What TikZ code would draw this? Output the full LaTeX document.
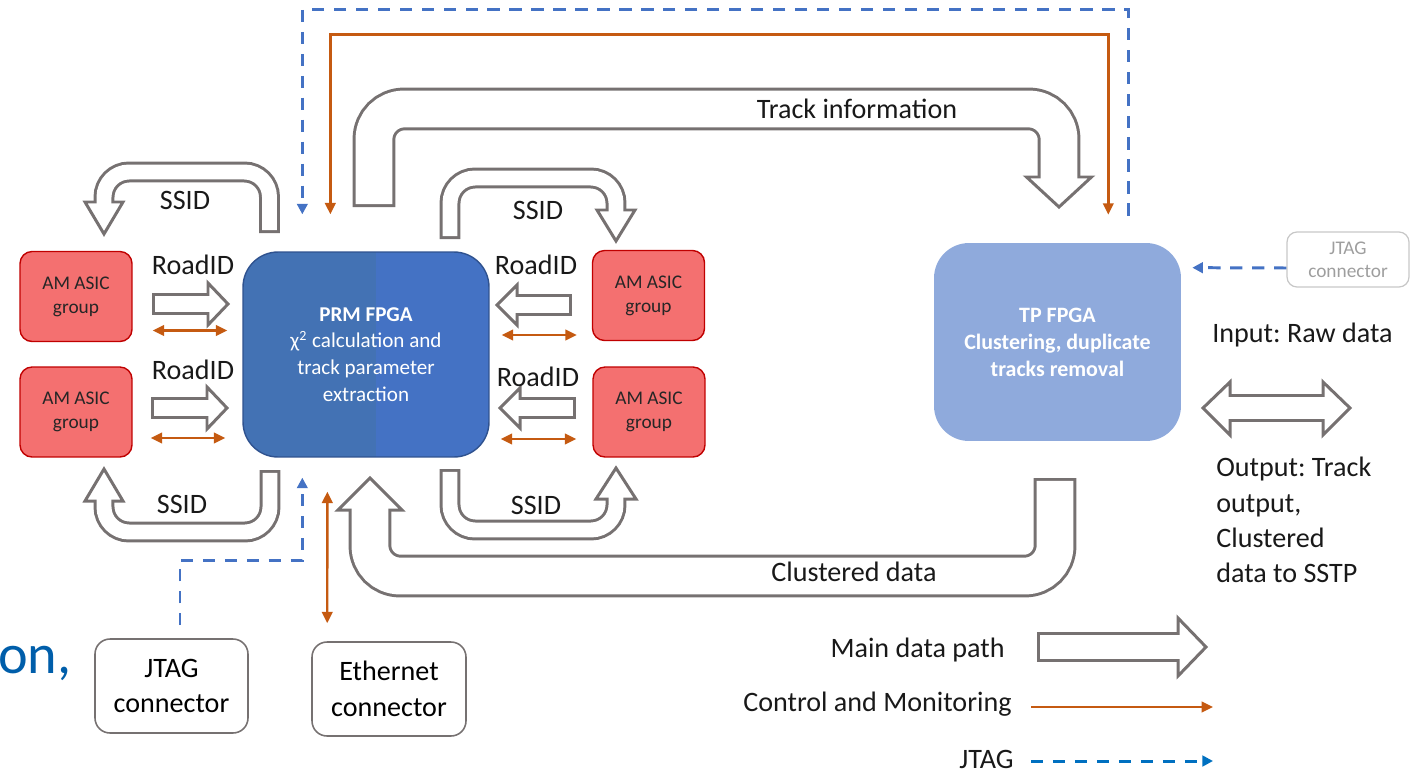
\documentclass[tikz,border=0pt]{standalone}
\usepackage{fontspec}
\setmainfont{Carlito}
\frenchspacing
\usepackage{tikz}
\usetikzlibrary{positioning,arrows.meta,calc}
\definecolor{pipegray}{RGB}{118,113,113}
\definecolor{ctrlorange}{RGB}{197,90,17}
\definecolor{jtagblue}{RGB}{68,114,196}
\definecolor{legblue}{RGB}{0,112,192}
\definecolor{amred}{RGB}{244,112,112}
\definecolor{amborder}{RGB}{192,0,0}
\definecolor{prmleft}{RGB}{67,114,180}
\definecolor{prmright}{RGB}{68,114,196}
\definecolor{prmborder}{RGB}{47,82,143}
\definecolor{tpblue}{RGB}{143,170,220}
\definecolor{slideblue}{RGB}{0,94,170}
\newcommand\pxu{0.5669pt}
\newcommand\olw{1.7pt}
% hollow block arrow: [tail shortening]{width px}{radius}{centre line}{head(s)}
\newcommand\blockarrow[5][shorten <=\olw]{%
  \draw[pipegray,line width=#2*\pxu+\olw,rounded corners=#3] #4;
  \filldraw[fill=white,draw=pipegray,line width=\olw,line join=miter] #5;
  \draw[white,line width=#2*\pxu-\olw,rounded corners=#3,#1,shorten >=-\olw] #4;}

\begin{document}
\begin{tikzpicture}[x=0.02cm,y=-0.02cm,
  >={Triangle[length=6.5pt,width=6pt]},
  amgroup/.style={draw=amborder,fill=amred,line width=0.8pt,rounded corners=0.24cm,minimum width=2.24cm,minimum height=1.8cm,align=center,text=black!85,font=\fontsize{11}{13.6}\selectfont},
  fpga/.style={rounded corners=0.7cm,align=center,text=white,font=\fontsize{12}{15.3}\selectfont},
  conn/.style={draw=pipegray,line width=0.9pt,rounded corners=0.3cm,align=center,font=\fontsize{16}{20.4}\selectfont},
  lbl/.style={inner sep=0pt,text=black!90,font=\fontsize{16}{20}\selectfont},
  ctrl/.style={ctrlorange,line width=1.4pt},
  jtag/.style={jtagblue,line width=1.7pt,dash pattern=on 7pt off 5.5pt,>={Triangle[length=6pt,width=6pt]}}]
\useasboundingbox (0,0) rectangle (1419,774);

% boards and chips
\node[amgroup] (am1) at (76,296.5) {AM ASIC\\group};
\node[amgroup] (am2) at (76,412) {AM ASIC\\group};
\node[amgroup] (am3) at (648.5,295.5) {AM ASIC\\group};
\node[amgroup] (am4) at (649,412) {AM ASIC\\group};
\node[fpga,fill=prmright,draw=prmborder,line width=0.8pt,minimum width=4.92cm,minimum height=4.1cm,
  path picture={\fill[prmleft,sharp corners] (path picture bounding box.south west) rectangle ([xshift=2.66cm]path picture bounding box.north west);}]
  (prm) at (366,354.5) {\textbf{PRM FPGA}\\χ\textsuperscript{2} calculation and\\track parameter\\extraction};
\node[fpga,fill=tpblue,minimum width=4.94cm,minimum height=3.96cm,font=\bfseries\fontsize{12.5}{15.3}\selectfont]
  (tp) at (1057.5,342) {TP FPGA\\Clustering, duplicate\\tracks removal};
\node[conn,draw=black!22,text=black!38,line width=0.7pt,minimum width=2.44cm,minimum height=1.1cm,rounded corners=0.2cm,font=\fontsize{11}{13}\selectfont] (jtagR) at (1348,259.5) {JTAG\\connector};
\node[conn,minimum width=3.06cm,minimum height=1.88cm] (jtagB) at (171.5,686) {JTAG\\connector};
\node[conn,minimum width=3.08cm,minimum height=1.88cm] (eth) at (389,689) {Ethernet\\connector};
\node[font=\fontsize{32}{36}\selectfont,text=slideblue,anchor=base west,inner sep=0pt] (slidetxt) at (-2,673) {on,};

% main data path
\blockarrow{40}{0.6cm}{(374,207) -- (374,109) -- (1059,109) -- (1059,177)}{(1026.5,177) -- (1059,207) -- (1091.5,177) -- cycle}
\blockarrow{40}{0.6cm}{(1055,478) -- (1055,576) -- (370,576) -- (370,510)}{(338,510) -- (370,478) -- (402,510) -- cycle}
\blockarrow{18}{0.5cm}{(269.5,233) -- (269.5,172) -- (104,172) -- (104,202)}{(85,202) -- (104,234) -- (123,202) -- cycle}
\blockarrow{18}{0.5cm}{(450,239) -- (450,178) -- (616,178) -- (616,210)}{(597,210) -- (616,241) -- (635,210) -- cycle}
\blockarrow{18}{0.5cm}{(270,470) -- (270,532) -- (104,532) -- (104,501)}{(85,501) -- (104,469) -- (123,501) -- cycle}
\blockarrow{18}{0.5cm}{(450,469) -- (450,530) -- (616,530) -- (616,499)}{(596,499) -- (616,468) -- (636,499) -- cycle}
\blockarrow{20}{1pt}{(152,304) -- (208,304)}{(208,283) -- (228,304) -- (208,325) -- cycle}
\blockarrow{20}{1pt}{(151,408) -- (207,408)}{(207,387) -- (227,408) -- (207,429) -- cycle}
\blockarrow{19}{1pt}{(572,305) -- (517,305)}{(517,285) -- (497,305) -- (517,325) -- cycle}
\blockarrow{19}{1pt}{(576,408) -- (520,408)}{(520,388) -- (500,408) -- (520,428) -- cycle}
\blockarrow[shorten <=-\olw]{25}{1pt}{(1230,408) -- (1323,408)}{(1230,382) -- (1203,408) -- (1230,435) -- cycle (1323,382) -- (1350,408) -- (1323,435) -- cycle}

\node[lbl] (trackinfo) at (857,109) {Track information};
\node[lbl] (clustered) at (854,572) {Clustered data};
\node[lbl] (ssid1) at (185,200) {SSID};
\node[lbl] (ssid2) at (538,210) {SSID};
\node[lbl] (ssid3) at (182,504) {SSID};
\node[lbl] (ssid4) at (536,505) {SSID};
\node[lbl] (road1) at (193,265) {RoadID};
\node[lbl] (road2) at (193,370) {RoadID};
\node[lbl] (road3) at (536,265) {RoadID};
\node[lbl] (road4) at (538,377) {RoadID};
\node[lbl,anchor=west] (inlbl) at (1212,335) {Input: Raw data};
\node[lbl,anchor=north west,align=left] (outlbl) at (1216,457) {Output: Track\\output,\\Clustered\\data to SSTP};

% control and monitoring
\draw[ctrl,<->] ($(am1.east)+(20,34)$) -- ($(am1.east -| prm.west)+(-15,34)$);
\draw[ctrl,<->] ($(am2.east)+(18,26)$) -- ($(am2.east -| prm.west)+(-17,26)$);
\draw[ctrl,<->] ($(am3.west -| prm.east)+(12,39.5)$) -- ($(am3.west)+(-15,39.5)$);
\draw[ctrl,<->] ($(am4.west -| prm.east)+(11,27)$) -- ($(am4.west)+(-16,27)$);
\draw[ctrl,<->] ($(prm.north west)+(88,-37)$) -- ++(0,-180) -| ($(tp.north east)+(-73,-28)$);
\draw[ctrl,<->] ($(eth.north west)+(16,-18)$) -- ($(prm.south west)+(85,34)$);

% jtag chain
\draw[jtag,->] ($(tp.north east)+(-53,-27)$) -- ++(0,-206) -| ($(prm.north west)+(60,-37)$);
\draw[jtag,->] ($(jtagB.north)+(8.5,-13)$) -- ++(0,-65) -| ($(prm.south west)+(60,20)$);
\draw[jtag,->] ($(jtagR.west)+(0,8.5)$) -- ($(tp.north east)+(11,25)$);

% legend
\node[lbl,anchor=east] (mainlbl) at (1005,650) {Main data path};
\node[lbl,anchor=east] (ctrllbl) at (1012,704) {Control and Monitoring};
\node[lbl,anchor=east] (jtaglbl) at (1014,759) {JTAG};
\blockarrow{27}{1pt}{(1037,647) -- (1178,647)}{(1178,618) -- (1206,647) -- (1178,676) -- cycle}
\coordinate (ctrlend) at (1213,707);
\coordinate (jtagend) at (1213,761);
\draw[ctrl,->] ($(ctrllbl.east)+(19,3)$) -- (ctrlend);
\draw[jtag,legblue,->] ($(jtaglbl.east)+(17,2)$) -- (jtagend);
\end{tikzpicture}
\end{document}
